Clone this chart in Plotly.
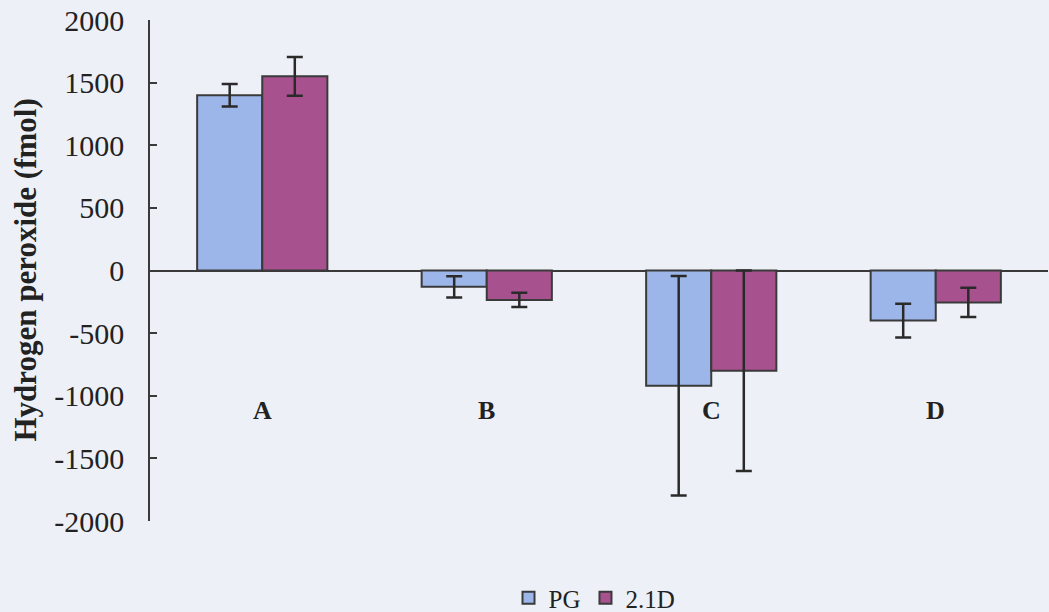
import plotly.graph_objects as go

categories = ["A", "B", "C", "D"]
pg_values = [1400, -130, -920, -400]
pg_errors = [90, 85, 876, 135]
d21_values = [1550, -235, -800, -255]
d21_errors = [155, 57, 800, 117]
series_names = ["PG", "2.1D"]
y_ticks = [-2000, -1500, -1000, -500, 0, 500, 1000, 1500, 2000]
y_tick_labels = ["-2000", "-1500", "-1000", "-500", "0", "500", "1000", "1500", "2000"]

FONT = "Liberation Serif, Times New Roman, serif"
EDGE = "#3a3a3a"
ERR = "#2a2a2a"

fig = go.Figure()
for name, vals, errs, color in [
    (series_names[0], pg_values, pg_errors, "#9db6ea"),
    (series_names[1], d21_values, d21_errors, "#a8518f"),
]:
    fig.add_bar(
        name=name,
        x=categories,
        y=vals,
        marker=dict(color=color, line=dict(color=EDGE, width=2)),
        error_y=dict(type="data", array=errs, visible=True,
                     color=ERR, thickness=2.5, width=8),
    )

# category labels sit low in the plot, below the zero baseline
for c in categories:
    fig.add_annotation(x=c, y=-1120, xref="x", yref="y", text=f"<b>{c}</b>",
                       showarrow=False, font=dict(family=FONT, size=26, color="#222"))

# vertical axis title
fig.add_annotation(x=-125 / 898, y=0.5, xref="paper", yref="paper", textangle=-90,
                   xanchor="center", yanchor="middle", showarrow=False,
                   text="<b>Hydrogen peroxide (fmol)</b>",
                   font=dict(family=FONT, size=31, color="#222"))

fig.update_layout(
    width=1049, height=612,
    margin=dict(l=150, r=1, t=20, b=91, autoexpand=False),
    paper_bgcolor="#edf0f6",
    plot_bgcolor="#edf0f6",
    barmode="group",
    bargap=0.42,
    bargroupgap=0,
    font=dict(family=FONT, color="#222"),
    showlegend=True,
    legend=dict(orientation="h", x=0.495, xanchor="center",
                yref="container", y=1 - 598 / 612, yanchor="middle",
                font=dict(family=FONT, size=25, color="#222"),
                itemwidth=30, bgcolor="rgba(0,0,0,0)"),
    xaxis=dict(showticklabels=False, showline=False, showgrid=False, zeroline=False,
               ticks=""),
    yaxis=dict(range=[-2000, 2000], tickvals=y_ticks, ticktext=y_tick_labels,
               ticks="inside", ticklen=7, ticklabelstandoff=18,
               tickwidth=1.5, tickcolor=EDGE, showline=True, linecolor=EDGE, linewidth=1.5,
               showgrid=False, zeroline=True, zerolinecolor=EDGE, zerolinewidth=1.5,
               tickfont=dict(family=FONT, size=30, color="#222")),
)

fig.write_html("out.html")
